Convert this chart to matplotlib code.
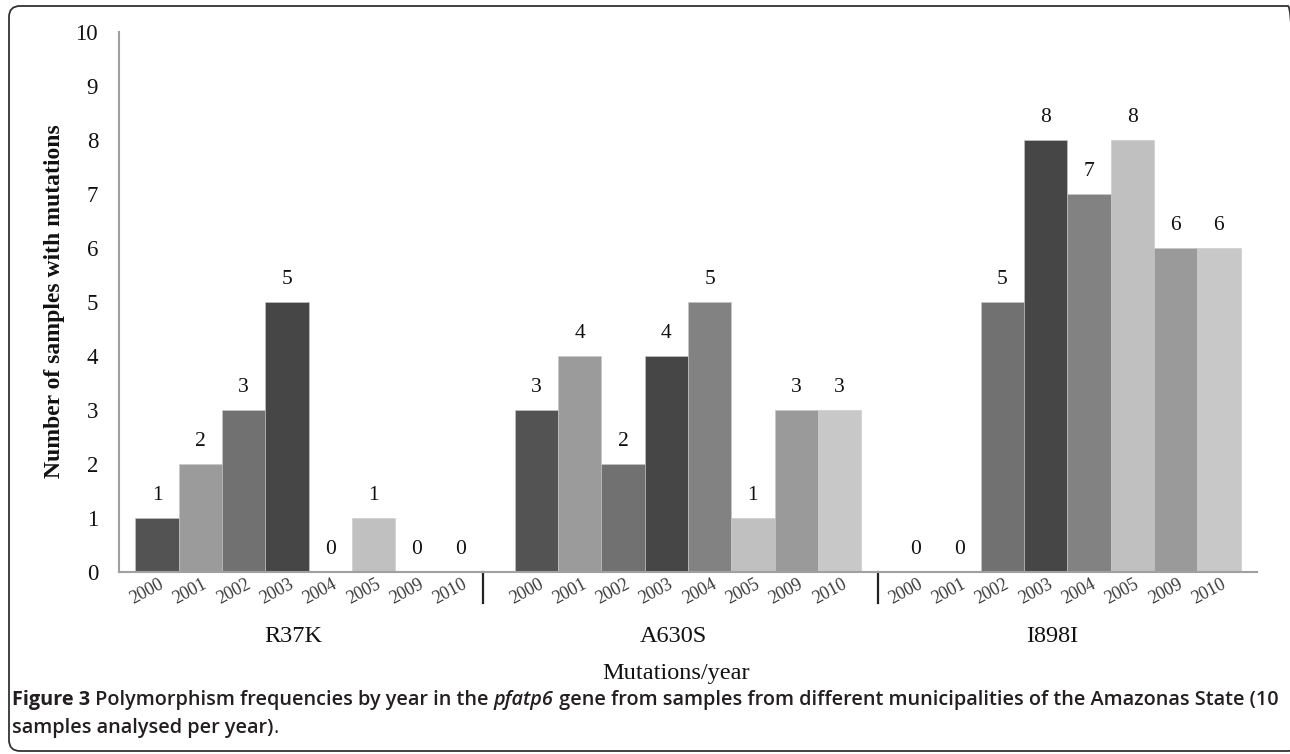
import matplotlib
matplotlib.use('Agg')
import matplotlib.pyplot as plt
import matplotlib.transforms as mtransforms
from matplotlib.patches import FancyBboxPatch
import numpy as np

# data
mutations = ['R37K', 'A630S', 'I898I']
years = ['2000', '2001', '2002', '2003', '2004', '2005', '2009', '2010']
r37k_counts = [1, 2, 3, 5, 0, 1, 0, 0]
a630s_counts = [3, 4, 2, 4, 5, 1, 3, 3]
i898i_counts = [0, 0, 5, 8, 7, 8, 6, 6]
year_colors = ['#535353', '#9b9b9b', '#717171', '#464646', '#828282', '#c0c0c0', '#9a9a9a', '#c8c8c8']

W, H = 1290, 754
SERIF = 'Liberation Serif'
pitch = 8.76        # one cluster of 8 bars plus gap
sep_off = [0.03, 0.38]

fig = plt.figure(figsize=(W/100, H/100), dpi=100)
ax = fig.add_axes([119/W, (H-572)/H, (1257-119)/W, (572-32)/H])

groups = [r37k_counts, a630s_counts, i898i_counts]
for g, vals in enumerate(groups):
  x = g*pitch + np.arange(len(years))
  ax.bar(x, vals, width=1.0, color=year_colors, edgecolor='#c8c8c8', linewidth=0.4, zorder=2)
  for xi, v, yr in zip(x, vals, years):
    ax.annotate(str(v), (xi, v), xytext=(0, 23), textcoords='offset pixels',
                ha='center', va='center', fontsize=15.5, family=SERIF, color='#111111')
    ax.annotate(yr, (xi, 0), xycoords=('data', 'axes fraction'), xytext=(-10, -4),
                textcoords='offset pixels', ha='center', va='top', rotation=28,
                fontsize=13, family=SERIF, color='#3a3a3a', annotation_clip=False)
  ax.annotate(mutations[g], (g*pitch + 3.5, 0), xycoords=('data', 'axes fraction'),
              xytext=(-15, -64), textcoords='offset pixels', ha='center', va='center',
              fontsize=17.5, family=SERIF, color='#111111', annotation_clip=False)

# group separators below the axis
trans = mtransforms.blended_transform_factory(ax.transData, ax.transAxes)
for g in range(2):
  sx = g*pitch + 7.5 + sep_off[g]
  ax.plot([sx, sx], [0, -31/540], transform=trans, color='#222222', lw=1.6, clip_on=False)

ax.set_xlim(-0.88, 2*pitch + 7.88)
ax.set_ylim(0, 10)
ax.set_yticks(range(0, 11))
ax.set_xticks([])
ax.tick_params(axis='y', length=0, pad=15, labelsize=16.5, labelcolor='#111111')
for lbl in ax.get_yticklabels():
  lbl.set_family(SERIF)
for s in ['top', 'right']:
  ax.spines[s].set_visible(False)
for s in ['left', 'bottom']:
  ax.spines[s].set_color('#a0a0a0')
  ax.spines[s].set_linewidth(1.5)

fig.text(55/W, (H-301)/H, 'Number of samples with mutations', rotation=90, ha='center', va='center',
         fontsize=17, fontweight='bold', family=SERIF, color='#111111')
fig.text(676/W, (H-673)/H, 'Mutations/year', ha='center', va='center',
         fontsize=17.5, family=SERIF, color='#111111')

# caption, drawn run by run
cap_color = '#231f20'
line1 = [('Figure 3', 'bold', 'normal'),
         (' Polymorphism frequencies by year in the ', 'semibold', 'normal'),
         ('pfatp6', 'semibold', 'italic'),
         (' gene from samples from different municipalities of the Amazonas State (10', 'semibold', 'normal')]
line2 = [('samples analysed per year)', 'semibold', 'normal'),
         ('.', 'normal', 'normal')]

renderer = fig.canvas.get_renderer()

def run_width(runs, size):
  total = 0
  for txt, wt, st in runs:
    t = fig.text(0, 0, txt, fontsize=size, fontweight=wt, fontstyle=st, family='Open Sans')
    total += t.get_window_extent(renderer).width
    t.remove()
  return total

def draw_runs(runs, x0, ypix, size):
  x = x0
  for txt, wt, st in runs:
    t = fig.text(x/W, (H-ypix)/H, txt, fontsize=size, fontweight=wt, fontstyle=st,
                 family='Open Sans', va='center', ha='left', color=cap_color)
    x += t.get_window_extent(renderer).width

x0 = 12
cap_size = 12 * (1275 - x0) / run_width(line1, 12)
draw_runs(line1, x0, 700, cap_size)
draw_runs(line2, x0, 728, cap_size)

frame = FancyBboxPatch((9, 3), 1290, 745, boxstyle='round,pad=0,rounding_size=11',
                       transform=mtransforms.IdentityTransform(), fill=False,
                       edgecolor='#333333', linewidth=1.3, clip_on=False)
fig.patches.append(frame)

fig.savefig('out.png', dpi=100)
